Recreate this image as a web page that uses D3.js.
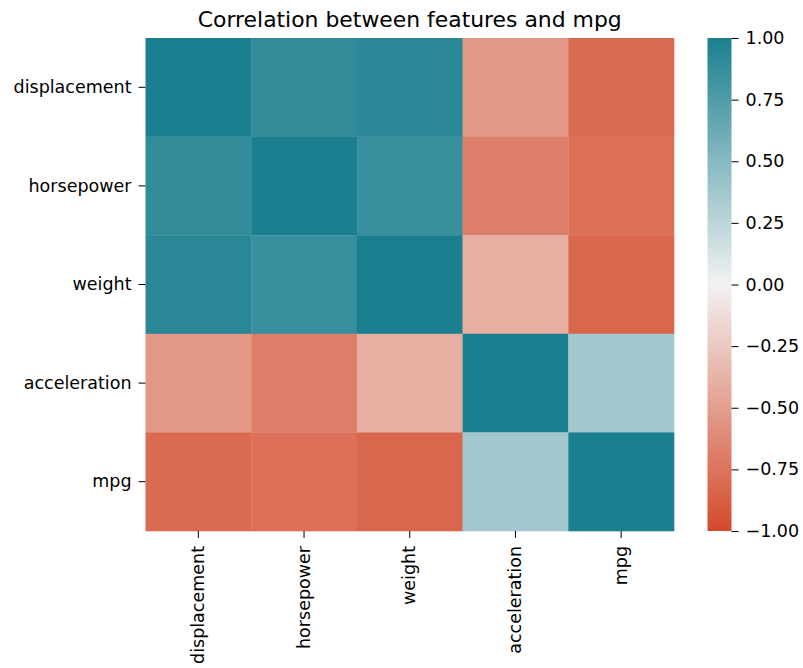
<!DOCTYPE html>
<html>
<head>
<meta charset="utf-8">
<script src="https://cdn.jsdelivr.net/npm/d3@7"></script>
<style>
  body { margin: 0; background: #fff; }
  text { font-family: "DejaVu Sans", sans-serif; fill: #000; }
</style>
</head>
<body>
<div class="canvas"></div>
<script>
const features = ['displacement', 'horsepower', 'weight', 'acceleration', 'mpg'];

// correlation rows
const displacementRow = [1.00, 0.90, 0.93, -0.54, -0.81];
const horsepowerRow   = [0.90, 1.00, 0.86, -0.69, -0.78];
const weightRow       = [0.93, 0.86, 1.00, -0.40, -0.83];
const accelerationRow = [-0.54, -0.69, -0.40, 1.00, 0.37];
const mpgRow          = [-0.81, -0.78, -0.83, 0.37, 1.00];
const rows = [displacementRow, horsepowerRow, weightRow, accelerationRow, mpgRow];

const colorbarTicks = [1.00, 0.75, 0.50, 0.25, 0.00, -0.25, -0.50, -0.75, -1.00];

const WIDTH = 803, HEIGHT = 668;
const MARGIN = { left: 145.5, top: 38, right: 129, bottom: 137 };
const GRAPH_WIDTH = WIDTH - MARGIN.left - MARGIN.right;
const GRAPH_HEIGHT = HEIGHT - MARGIN.top - MARGIN.bottom;
const TICK_FONT = '17.5px';

const svg = d3.select('.canvas').append('svg')
  .attr('width', WIDTH)
  .attr('height', HEIGHT);

const graph = svg.append('g')
  .attr('transform', `translate(${MARGIN.left}, ${MARGIN.top})`);

//scales
const x = d3.scaleBand().domain(features).range([0, GRAPH_WIDTH]);
const y = d3.scaleBand().domain(features).range([0, GRAPH_HEIGHT]);
// diverging palette: orange -> light grey -> teal
const color = d3.scaleLinear()
  .domain([-1, 0, 1])
  .range(['#d44a2b', '#f2f2f2', '#1b7f8f'])
  .interpolate(d3.interpolateRgb);

//cells
const cells = [];
rows.forEach((row, i) => row.forEach((v, j) => cells.push({ r: features[i], c: features[j], v })));

graph.selectAll('rect.cell')
  .data(cells)
  .enter().append('rect')
  .attr('class', 'cell')
  .attr('x', d => x(d.c))
  .attr('y', d => y(d.r))
  .attr('width', x.bandwidth() + 0.3)
  .attr('height', y.bandwidth() + 0.3)
  .attr('fill', d => color(d.v));

//axes
const xAxisGroup = graph.append('g')
  .attr('transform', `translate(0, ${GRAPH_HEIGHT})`)
  .call(d3.axisBottom(x).tickSize(7).tickPadding(8));
xAxisGroup.selectAll('text')
  .attr('text-anchor', 'end')
  .attr('x', 0)
  .attr('y', 0)
  .attr('dy', '0.32em')
  .attr('transform', 'translate(0, 15) rotate(-90)');

const yAxisGroup = graph.append('g')
  .call(d3.axisLeft(y).tickSize(7).tickPadding(7));

[xAxisGroup, yAxisGroup].forEach(g => {
  g.select('.domain').remove();
  g.selectAll('line').attr('stroke', '#000').attr('stroke-width', 1);
  g.selectAll('text').style('font-size', TICK_FONT).style('font-family', '"DejaVu Sans", sans-serif').attr('fill', '#000');
});

//title
svg.append('text')
  .attr('x', MARGIN.left + GRAPH_WIDTH / 2)
  .attr('y', 27)
  .attr('text-anchor', 'middle')
  .style('font-size', '21.9px')
  .text('Correlation between features and mpg');

//colorbar
const cbX = 707.5, cbW = 24;
const cbScale = d3.scaleLinear().domain([-1, 1]).range([GRAPH_HEIGHT, 0]);

const defs = svg.append('defs');
const grad = defs.append('linearGradient')
  .attr('id', 'cbgrad')
  .attr('x1', 0).attr('y1', 1).attr('x2', 0).attr('y2', 0);
grad.selectAll('stop')
  .data(d3.range(0, 1.0001, 0.05))
  .enter().append('stop')
  .attr('offset', d => d)
  .attr('stop-color', d => color(d * 2 - 1));

const cb = svg.append('g')
  .attr('transform', `translate(${cbX}, ${MARGIN.top})`);
cb.append('rect')
  .attr('width', cbW)
  .attr('height', GRAPH_HEIGHT)
  .attr('fill', 'url(#cbgrad)');

const cbAxis = cb.append('g')
  .attr('transform', `translate(${cbW}, 0)`)
  .call(d3.axisRight(cbScale)
    .tickValues(colorbarTicks)
    .tickSize(7)
    .tickPadding(7)
    .tickFormat(d => d3.format('.2f')(d).replace('-', '\u2212')));
cbAxis.select('.domain').remove();
cbAxis.selectAll('line').attr('stroke', '#000');
cbAxis.selectAll('text').style('font-size', TICK_FONT).style('font-family', '"DejaVu Sans", sans-serif').attr('fill', '#000');
</script>
</body>
</html>
